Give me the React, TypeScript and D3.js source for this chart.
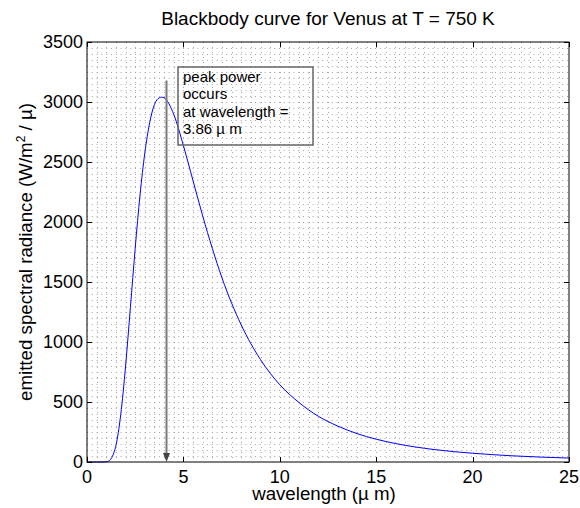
import React, { useEffect, useRef } from 'react';
import * as d3 from 'd3';

// wavelength (µm) and emitted radiance (W/m^2/µm)
const wavelength = [0, 0.5, 0.9, 1, 1.1, 1.25, 1.4, 1.5, 1.75, 2, 2.25, 2.5, 2.75, 3, 3.25, 3.5, 3.75, 3.86, 4, 4.25, 4.5, 5, 5.5, 6, 6.5, 7, 8, 9, 10, 11, 12, 13, 14, 15, 16, 18, 20, 22, 25];
const radiance = [0, 0, 0.3, 2, 6, 27, 80, 137, 395, 798, 1286, 1781, 2225, 2577, 2827, 2980, 3035, 3040, 3035, 2985, 2897, 2637, 2344, 2051, 1780, 1535, 1142, 853, 644, 495, 381, 300, 237, 190, 154, 104, 73, 52, 33];

const xTicks = [0, 5, 10, 15, 20, 25];
const yTicks = [0, 500, 1000, 1500, 2000, 2500, 3000, 3500];

const titleText = 'Blackbody curve for Venus at T = 750 K';
const xLabel = 'wavelength (\u00b5 m)';
const noteLines = ['peak power', 'occurs', 'at wavelength =', '3.86 \u00b5 m'];
const arrowAt = 4.1;
const arrowTop = 3180;

const App = () => {
    const svgRef = useRef<SVGSVGElement>(null);

    useEffect(() => {
        const width = 580;
        const height = 508;
        const left = 87, right = 569, top = 42, bottom = 462;
        const font = 'Liberation Sans, Arial, sans-serif';

        const svg = d3.select(svgRef.current)
            .attr('width', width)
            .attr('height', height);
        svg.selectAll('*').remove();

        const x = d3.scaleLinear().domain([0, 25]).range([left, right]);
        const y = d3.scaleLinear().domain([0, 3500]).range([bottom, top]);

        svg.append('rect').attr('width', width).attr('height', height).attr('fill', '#fff');

        // dotted minor grid
        const grid = svg.append('g').attr('stroke', '#a8a8a8').attr('stroke-width', 1);
        grid.selectAll('line.gx')
            .data(d3.range(0.5, 25, 0.5))
            .enter().append('line')
            .attr('stroke-dasharray', '1,4')
            .attr('x1', d => Math.round(x(d)) + 0.5)
            .attr('x2', d => Math.round(x(d)) + 0.5)
            .attr('y1', top)
            .attr('y2', bottom);
        grid.selectAll('line.gy')
            .data(d3.range(50, 3500, 50))
            .enter().append('line')
            .attr('stroke-dasharray', '1,3.8')
            .attr('y1', d => Math.round(y(d)) + 0.5)
            .attr('y2', d => Math.round(y(d)) + 0.5)
            .attr('x1', left)
            .attr('x2', right);

        // curve
        const pts = wavelength.map((w, i) => [w, radiance[i]] as [number, number]);
        const line = d3.line<[number, number]>()
            .x(d => x(d[0]))
            .y(d => y(d[1]))
            .curve(d3.curveMonotoneX);
        svg.append('path')
            .attr('d', line(pts))
            .attr('fill', 'none')
            .attr('stroke', '#0000ff')
            .attr('stroke-width', 1);

        // axes box and ticks
        const axes = svg.append('g').attr('stroke', '#000').attr('stroke-width', 1);
        axes.append('rect')
            .attr('x', left).attr('y', top)
            .attr('width', right - left).attr('height', bottom - top)
            .attr('fill', 'none');
        xTicks.forEach(t => {
            const px = Math.round(x(t)) + 0.5;
            axes.append('line').attr('x1', px).attr('x2', px).attr('y1', bottom).attr('y2', bottom - 5);
            axes.append('line').attr('x1', px).attr('x2', px).attr('y1', top).attr('y2', top + 5);
        });
        yTicks.forEach(t => {
            const py = Math.round(y(t)) + 0.5;
            axes.append('line').attr('y1', py).attr('y2', py).attr('x1', left).attr('x2', left + 5);
            axes.append('line').attr('y1', py).attr('y2', py).attr('x1', right).attr('x2', right - 5);
        });

        svg.selectAll('text.xt')
            .data(xTicks)
            .enter().append('text')
            .attr('x', d => x(d))
            .attr('y', bottom + 20.5)
            .attr('text-anchor', 'middle')
            .attr('font-family', font)
            .attr('font-size', 18)
            .text(d => d);
        svg.selectAll('text.yt')
            .data(yTicks)
            .enter().append('text')
            .attr('x', left - 4)
            .attr('y', d => y(d) + 6.3)
            .attr('text-anchor', 'end')
            .attr('font-family', font)
            .attr('font-size', 18)
            .text(d => d);

        // titles
        svg.append('text')
            .attr('x', (left + right) / 2)
            .attr('y', 25)
            .attr('text-anchor', 'middle')
            .attr('font-family', font)
            .attr('font-size', 19)
            .text(titleText);
        svg.append('text')
            .attr('x', (left + right) / 2 - 4)
            .attr('y', 500)
            .attr('text-anchor', 'middle')
            .attr('font-family', font)
            .attr('font-size', 18.7)
            .text(xLabel);
        const yl = svg.append('text')
            .attr('transform', `translate(32,${(top + bottom) / 2}) rotate(-90)`)
            .attr('text-anchor', 'middle')
            .attr('font-family', font)
            .attr('font-size', 18.7);
        yl.append('tspan').text('emitted spectral radiance (W/m');
        yl.append('tspan').attr('font-size', 12).attr('dy', -7).text('2');
        yl.append('tspan').attr('dy', 7).text(' / \u00b5)');

        // annotation arrow
        const ax = Math.round(x(arrowAt)) + 0.5;
        svg.append('line')
            .attr('x1', ax).attr('x2', ax)
            .attr('y1', y(arrowTop)).attr('y2', bottom - 6)
            .attr('stroke', '#7a7a7a')
            .attr('stroke-width', 2);
        svg.append('path')
            .attr('d', `M${ax - 3.5},${bottom - 9} L${ax + 3.5},${bottom - 9} L${ax},${bottom} Z`)
            .attr('fill', '#444');

        // annotation text box
        svg.append('rect')
            .attr('x', 178).attr('y', 67)
            .attr('width', 135).attr('height', 78)
            .attr('fill', 'none')
            .attr('stroke', '#666')
            .attr('stroke-width', 1.5);
        svg.selectAll('text.note')
            .data(noteLines)
            .enter().append('text')
            .attr('x', 183)
            .attr('y', (d, i) => 82 + i * 17.3)
            .attr('font-family', font)
            .attr('font-size', 15)
            .text(d => d);
    }, []);

    return (
        <svg ref={svgRef} style={{ position: 'absolute', left: 0, top: 0 }}></svg>
    );
};

export default App;
